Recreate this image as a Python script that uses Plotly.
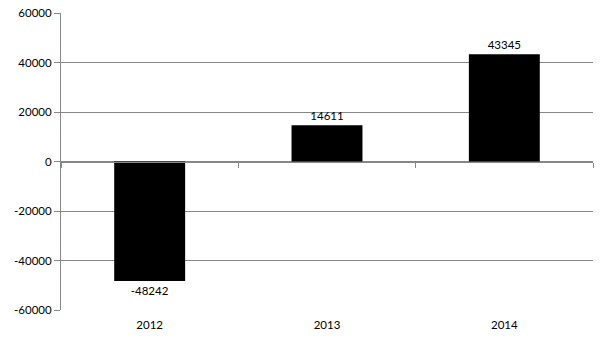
import plotly.graph_objects as go

years = ["2012", "2013", "2014"]
values = [-48242, 14611, 43345]
y_ticks = [-60000, -40000, -20000, 0, 20000, 40000, 60000]

grid = "#878787"
font = dict(family="Lato, Carlito, sans-serif", size=11.5, color="#000000")

fig = go.Figure()
fig.add_trace(go.Bar(
    x=years, y=values,
    text=[str(v) for v in values], texttemplate="%{text}",
    marker=dict(color="#000000", line=dict(width=0)),
    textposition="outside",
    textfont=font, cliponaxis=False, hoverinfo="skip",
    xaxis="x", yaxis="y",
))
# invisible helper trace for the category axis drawn along zero
fig.add_trace(go.Scatter(
    x=years, y=values, mode="markers", marker=dict(opacity=0),
    xaxis="x2", yaxis="y", hoverinfo="skip", showlegend=False,
))

fig.update_layout(
    width=605, height=340,
    margin=dict(l=61, r=12, t=13, b=30, autoexpand=False),
    paper_bgcolor="white", plot_bgcolor="white",
    showlegend=False, bargap=0.6,
    font=font,
    xaxis=dict(
        type="category", categoryorder="array", categoryarray=years,
        range=[-0.5, 2.5], showline=False, showgrid=False, zeroline=False,
        ticks="", ticklabelstandoff=6, tickfont=font, fixedrange=True,
        automargin=False,
    ),
    xaxis2=dict(
        type="category", categoryorder="array", categoryarray=years,
        range=[-0.5, 2.5], overlaying="x", anchor="free", position=0.5,
        side="bottom", showline=True, linecolor=grid, linewidth=1,
        ticks="outside", ticklen=5, tickcolor=grid, tickwidth=1,
        tickson="boundaries", showticklabels=False, showgrid=False,
        zeroline=False, automargin=False,
    ),
    yaxis=dict(
        range=[-60000, 60000], tickvals=y_ticks, ticktext=[str(v) for v in y_ticks],
        showline=True, linecolor=grid, linewidth=1,
        ticks="outside", ticklen=6, tickcolor=grid,
        showgrid=True, gridcolor=grid, gridwidth=1,
        zeroline=False, tickfont=font, fixedrange=True, automargin=False,
    ),
)

fig.write_html("out.html")
